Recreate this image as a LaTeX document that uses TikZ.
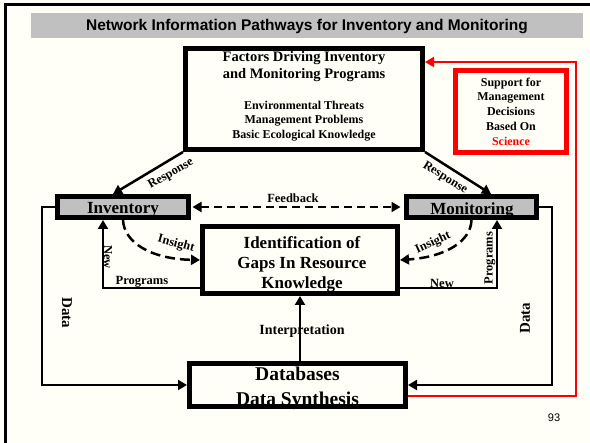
\documentclass[tikz,border=0pt]{standalone}
\usepackage{fontspec}
\setmainfont{Liberation Serif}
\newfontfamily\sansfont{Liberation Sans}
\usetikzlibrary{arrows.meta}
\definecolor{bgcream}{RGB}{255,255,248}
\definecolor{silverg}{RGB}{192,192,192}
\begin{document}
\begin{tikzpicture}[x=1pt,y=-1pt,
  box/.style={draw=black, line width=5pt, inner sep=0pt, outer sep=2.5pt},
  graybox/.style={box, fill=silverg},
  redbox/.style={box, draw=red},
  txt/.style={inner sep=0pt, align=center, font=\bfseries\fontsize{#1}{20}\selectfont},
  conn/.style={line width=2.5pt, -{Triangle[length=9pt,width=10pt]}},
  dconn/.style={conn, dash pattern=on 8pt off 5pt},
  lbl/.style={inner sep=0pt, font=\bfseries\fontsize{12.5}{14}\selectfont},
]
\useasboundingbox (0,0) rectangle (590,443);
\fill[bgcream] (0,0) rectangle (590,443);
% frame
\draw[line width=3pt] (5.5,443) -- (5.5,4.7) -- (590,4.7);
% title bar
\fill[silverg] (31,13) rectangle (583,38);
\node[anchor=base, inner sep=0pt, font=\sansfont\bfseries\fontsize{15.5}{18}\selectfont] (title) at (307,30.5) {Network Information Pathways for Inventory and Monitoring};

% boxes
\node[box, minimum width=237pt, minimum height=101pt] (factors) at (304,99) {};
\node[inner sep=0pt, align=center, font=\bfseries\fontsize{14.5}{17}\selectfont] (ftitle) at (304,67) {Factors Driving Inventory\\and Monitoring Programs};
\node[inner sep=0pt, align=center, font=\bfseries\fontsize{12}{14.6}\selectfont] (fsub) at (304,121) {Environmental Threats\\Management Problems\\Basic Ecological Knowledge};

\node[redbox, minimum width=111pt, minimum height=82pt, align=center, font=\bfseries\fontsize{12}{14.8}\selectfont] (support) at (511,111.5) {Support for\\Management\\Decisions\\Based On\\\textcolor{red}{Science}};

\node[graybox, minimum width=131pt, minimum height=21pt] (inv) at (123,207) {};
\node[txt=17] (invt) at (123,210) {Inventory};
\node[graybox, minimum width=130pt, minimum height=21pt] (mon) at (471.5,207) {};
\node[txt=17] (mont) at (472,210) {Monitoring};

\node[box, minimum width=195pt, minimum height=67pt] (ident) at (300,260) {};
\node[inner sep=0pt, align=center, font=\bfseries\fontsize{17}{20}\selectfont] (identt) at (302,264) {Identification of\\Gaps In Resource\\Knowledge};

\node[box, minimum width=216pt, minimum height=43pt] (db) at (297.5,385) {};
\node[inner sep=0pt, align=center, font=\bfseries\fontsize{19.5}{25}\selectfont] (dbt) at (297.5,388) {Databases\\Data Synthesis};

% response arrows
\draw[conn] (factors.south west) -- ([xshift=-10pt]inv.north);
\draw[conn] (factors.south east) -- ([xshift=19.5pt]mon.north);
\node[lbl, rotate=30] (resp1) at (171,174) {Response};
\node[lbl, rotate=-32] (resp2) at (445,178) {Response};

% feedback
\draw[dconn, {Triangle[length=9pt,width=10pt]}-{Triangle[length=9pt,width=10pt]}, shorten <=1.5pt, shorten >=3.5pt] (inv.east) -- (mon.west);
\node[lbl] (fb) at (293,198) {Feedback};

% data lines
\coordinate (dl) at (42,207);
\coordinate (dr) at (552,207);
\draw[conn] (inv.west) -- (dl) |- (db.west);
\draw[conn] (mon.east) -- (dr) |- (db.east);
\node[txt=15, rotate=-90] (datal) at (67,313) {Data};
\node[txt=15, rotate=90] (datar) at (525,318) {Data};

% new programs
\draw[conn] ([yshift=-28pt]ident.west) -| ([xshift=-20pt]inv.south);
\draw[conn] ([yshift=-28pt]ident.east) -| ([xshift=25.5pt]mon.south);
\node[lbl, rotate=-90] (newl) at (108,257) {New};
\node[lbl] (progl) at (142,282) {Programs};
\node[lbl] (newr) at (442,283) {New};
\node[lbl, rotate=90] (progr) at (490,258) {Programs};

% insight
\draw[conn, dash pattern=on 10pt off 5pt] (inv.south) .. controls (124,242) and (150,259) .. (ident.west);
\draw[conn, dash pattern=on 10pt off 5pt] (mon.south) .. controls (471,241) and (446,257) .. (ident.east);
\node[lbl, rotate=-15] (insl) at (176,244) {Insight};
\node[lbl, rotate=25] (insr) at (433,243) {Insight};

% interpretation
\draw[conn] (db.north -| ident.south) -- (ident.south);
\node[txt=14] (interp) at (302,331) {Interpretation};

% red support line
\coordinate (r1) at (576,396);
\coordinate (r2) at (576,62);
\draw[red, line width=2pt, -{Triangle[length=9pt,width=10pt]}] ([yshift=-11pt]db.east) -- (r1) -- (r2) -- ([yshift=37pt]factors.east);

% page number
\node[inner sep=0pt, font=\sansfont\fontsize{11}{13}\selectfont] (pg) at (554,418) {93};
\end{tikzpicture}
\end{document}
